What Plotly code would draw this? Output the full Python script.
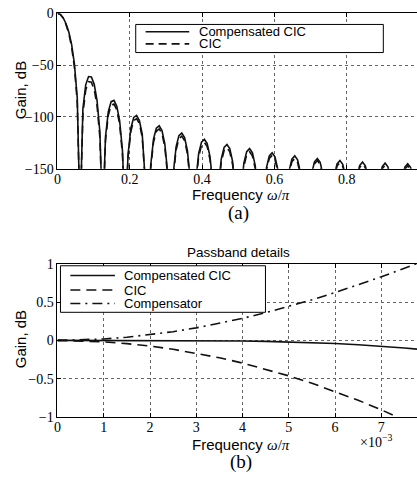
import plotly.graph_objects as go

# ---------------- data ----------------
freq = [
    0, 0.0078, 0.0156, 0.0234, 0.0313, 0.0391, 0.0469, 0.0547,
    0.0625, 0.0703, 0.0781, 0.0859, 0.0938, 0.1016, 0.1094, 0.1172,
    0.125, 0.1328, 0.1406, 0.1484, 0.1563, 0.1641, 0.1719, 0.1797,
    0.1875, 0.1953, 0.2031, 0.2109, 0.2188, 0.2266, 0.2344, 0.2422,
    0.25, 0.2578, 0.2656, 0.2734, 0.2813, 0.2891, 0.2969, 0.3047,
    0.3125, 0.3203, 0.3281, 0.3359, 0.3438, 0.3516, 0.3594, 0.3672,
    0.375, 0.3828, 0.3906, 0.3984, 0.4063, 0.4141, 0.4219, 0.4297,
    0.4375, 0.4453, 0.4531, 0.4609, 0.4688, 0.4766, 0.4844, 0.4922,
    0.5, 0.5078, 0.5156, 0.5234, 0.5313, 0.5391, 0.5469, 0.5547,
    0.5625, 0.5703, 0.5781, 0.5859, 0.5938, 0.6016, 0.6094, 0.6172,
    0.625, 0.6328, 0.6406, 0.6484, 0.6563, 0.6641, 0.6719, 0.6797,
    0.6875, 0.6953, 0.7031, 0.7109, 0.7188, 0.7266, 0.7344, 0.7422,
    0.75, 0.7578, 0.7656, 0.7734, 0.7813, 0.7891, 0.7969, 0.8047,
    0.8125, 0.8203, 0.8281, 0.8359, 0.8438, 0.8516, 0.8594, 0.8672,
    0.875, 0.8828, 0.8906, 0.8984, 0.9063, 0.9141, 0.9219, 0.9297,
    0.9375, 0.9453, 0.9531, 0.9609, 0.9688, 0.9766, 0.9844, 0.9922,
    1.0,
]

gain_cic = [
    0, -1.1, -4.6, -10.7, -19.5, -32.5, -52, -85.5,
    -200, -97, -74, -66, -66.5, -73.5, -89, -119.5,
    -200, -122.7, -98.3, -88.7, -87.5, -93.1, -106.9, -135.7,
    -200, -138.7, -113.6, -103.4, -101.5, -106.4, -119.6, -147.7,
    -200, -149.8, -124.3, -113.8, -111.5, -116, -128.9, -156.6,
    -200, -157.5, -131.8, -121, -118.5, -122.8, -135.4, -162.9,
    -200, -164, -138.1, -127.2, -124.5, -128.6, -141.1, -168.4,
    -200, -169.4, -143.4, -132.3, -129.5, -133.5, -145.8, -173,
    -200, -173.8, -147.6, -136.4, -133.5, -137.4, -149.6, -176.6,
    -200, -177.5, -151.3, -140, -137, -140.8, -152.9, -179.9,
    -200, -180.8, -154.5, -143.1, -140, -143.7, -155.7, -182.6,
    -200, -183, -156.6, -145.2, -142, -145.7, -157.6, -184.5,
    -200, -185, -158.7, -147.2, -144, -147.6, -159.5, -186.3,
    -200, -187, -160.4, -148.8, -145.5, -149, -160.8, -187.5,
    -200, -188, -161.5, -149.8, -146.5, -150, -161.7, -188.3,
    -200, -188.7, -162, -150.4, -147, -150.5, -162.1, -188.8,
    -200,
]

gain_comp_cic = [
    0, -1.0, -4.2, -9.8, -18, -30, -49, -81.5,
    -200, -92, -69, -61, -61.5, -68.5, -84, -114,
    -200, -119.2, -94.8, -85.2, -84, -89.6, -103.4, -132.2,
    -200, -135.7, -110.6, -100.4, -98.5, -103.4, -116.6, -144.7,
    -200, -146.8, -121.3, -110.8, -108.5, -113, -125.9, -153.6,
    -200, -154.5, -128.8, -118, -115.5, -119.8, -132.4, -159.9,
    -200, -161, -135.1, -124.2, -121.5, -125.6, -138.1, -165.4,
    -200, -166.4, -140.4, -129.3, -126.5, -130.5, -142.8, -170,
    -200, -170.8, -144.6, -133.4, -130.5, -134.4, -146.6, -173.6,
    -200, -175, -148.8, -137.5, -134.5, -138.3, -150.4, -177.4,
    -200, -178.3, -152, -140.6, -137.5, -141.2, -153.2, -180.1,
    -200, -181, -154.6, -143.2, -140, -143.7, -155.6, -182.5,
    -200, -183, -156.7, -145.2, -142, -145.6, -157.5, -184.3,
    -200, -185, -158.4, -146.8, -143.5, -147, -158.8, -185.5,
    -200, -186, -159.5, -147.8, -144.5, -148, -159.7, -186.3,
    -200, -186.7, -160, -148.4, -145, -148.5, -160.1, -186.8,
    -200,
]

# passband details
pb_freq = [0, 0.0005, 0.001, 0.0015, 0.002, 0.0025, 0.003, 0.0035, 0.004,
           0.0045, 0.005, 0.0055, 0.006, 0.0065, 0.007, 0.0075, 0.0078]
pb_comp_cic = [0, 0, 0, -0.0002, -0.0005, -0.0012, -0.0025, -0.0047, -0.008,
               -0.013, -0.020, -0.029, -0.041, -0.056, -0.075, -0.099, -0.116]
pb_cic = [0, -0.005, -0.019, -0.042, -0.074, -0.116, -0.167, -0.227, -0.296,
          -0.375, -0.463, -0.560, -0.666, -0.782, -0.907, -1.041, -1.126]
pb_compensator = [0, 0.005, 0.019, 0.041, 0.074, 0.114, 0.164, 0.222, 0.288,
                  0.362, 0.443, 0.531, 0.625, 0.726, 0.831, 0.942, 1.010]

top_xticks = [0, 0.2, 0.4, 0.6, 0.8]
top_xticktext = ["0", "0.2", "0.4", "0.6", "0.8"]
top_yticks = [0, -50, -100, -150]
bot_xticks = [0, 0.001, 0.002, 0.003, 0.004, 0.005, 0.006, 0.007]
bot_xticktext = ["0", "1", "2", "3", "4", "5", "6", "7"]
bot_yticks = [1, 0.5, 0, -0.5, -1]

# ---------------- figure ----------------
W, H = 417, 487
def px(x):
    return x / W
def py(y):
    return 1 - y / H

LINE = "#111111"
fig = go.Figure()

fig.add_trace(go.Scatter(x=freq, y=gain_comp_cic, mode="lines", xaxis="x", yaxis="y",
                         line=dict(color=LINE, width=1.6), showlegend=False))
fig.add_trace(go.Scatter(x=freq, y=gain_cic, mode="lines", xaxis="x", yaxis="y",
                         line=dict(color=LINE, width=1.6, dash="8px,5px"), showlegend=False))

fig.add_trace(go.Scatter(x=pb_freq, y=pb_comp_cic, mode="lines", xaxis="x2", yaxis="y2",
                         line=dict(color=LINE, width=1.6), showlegend=False))
fig.add_trace(go.Scatter(x=pb_freq, y=pb_cic, mode="lines", xaxis="x2", yaxis="y2",
                         line=dict(color=LINE, width=1.6, dash="10px,6px"), showlegend=False))
fig.add_trace(go.Scatter(x=pb_freq, y=pb_compensator, mode="lines", xaxis="x2", yaxis="y2",
                         line=dict(color=LINE, width=1.6, dash="10px,5px,2px,5px"), showlegend=False))

tickfont = dict(family="Liberation Serif", size=14, color="black")
common = dict(showline=True, linecolor="black", linewidth=1, ticks="inside", ticklen=4,
              tickcolor="black", showgrid=True, gridcolor="#666", griddash="dot",
              gridwidth=1, zeroline=False, tickfont=tickfont)

xdom = [54 / W, 1.0]
fig.update_layout(
    width=W, height=H,
    margin=dict(l=0, r=0, t=0, b=0),
    paper_bgcolor="white", plot_bgcolor="white",
    xaxis=dict(domain=xdom, range=[0, 0.9945], tickvals=top_xticks, ticktext=top_xticktext,
               mirror="ticks", anchor="y", ticklabelstandoff=-3, **common),
    yaxis=dict(domain=[py(167), py(6.5)], range=[-150, 0], tickvals=top_yticks,
               mirror=False, anchor="x", **common),
    xaxis2=dict(domain=xdom, range=[0, 0.00777], tickvals=bot_xticks, ticktext=bot_xticktext,
                mirror="ticks", anchor="y2", ticklabelstandoff=-3, **common),
    yaxis2=dict(domain=[py(423), py(265)], range=[-1, 1], tickvals=bot_yticks,
                mirror=False, anchor="x2", **common),
)

shapes = []
ann = []
sans = "Liberation Sans"
serif = "Liberation Serif"

def add_legend(box, entries, x_line0, x_line1, x_text, size):
    x0, y0, x1, y1 = box
    shapes.append(dict(type="rect", xref="paper", yref="paper", x0=px(x0), x1=px(x1),
                       y0=py(y1), y1=py(y0), line=dict(color="black", width=1),
                       fillcolor="white", layer="above"))
    for label, yy, dash in entries:
        shapes.append(dict(type="line", xref="paper", yref="paper", x0=px(x_line0),
                           x1=px(x_line1), y0=py(yy), y1=py(yy),
                           line=dict(color=LINE, width=1.6, dash=dash), layer="above"))
        ann.append(dict(text=label, xref="paper", yref="paper", x=px(x_text), y=py(yy),
                        xanchor="left", yanchor="middle", showarrow=False,
                        font=dict(family=sans, size=size, color="black")))

add_legend((133, 18, 383, 47),
           [("Compensated CIC", 25.5, "solid"), ("CIC", 38, "8px,5px")],
           143, 187, 195, 13)
add_legend((57, 267, 264, 315),
           [("Compensated CIC", 277, "solid"), ("CIC", 292, "10px,6px"),
            ("Compensator", 306, "10px,5px,2px,5px")],
           67, 112, 119, 13)

def text(t, x, y, size, family, angle=0, xanchor="center"):
    ann.append(dict(text=t, xref="paper", yref="paper", x=px(x), y=py(y), xanchor=xanchor,
                    yanchor="middle", showarrow=False, textangle=angle,
                    font=dict(family=family, size=size, color="black")))

freq_label = 'Frequency <span style="font-family:Liberation Serif"><i>ω</i>/<i>π</i></span>'
text("Gain, dB", 17, 86, 15, sans, angle=-90)
text("Gain, dB", 17, 343, 15, sans, angle=-90)
text(freq_label, 239, 193, 15, sans)
text(freq_label, 239, 451, 15, sans)
text("(a)", 237, 213, 19, serif)
text("(b)", 239, 469, 19, serif)
text("Passband details", 237, 253, 13.5, sans)
text("×10<sup>−3</sup>", 357, 448, 14, serif, xanchor="left")

fig.update_layout(shapes=shapes, annotations=ann)
fig.write_html("out.html", config={"displayModeBar": False},
               post_script="document.body.style.margin='0px';document.body.style.overflow='hidden';")
